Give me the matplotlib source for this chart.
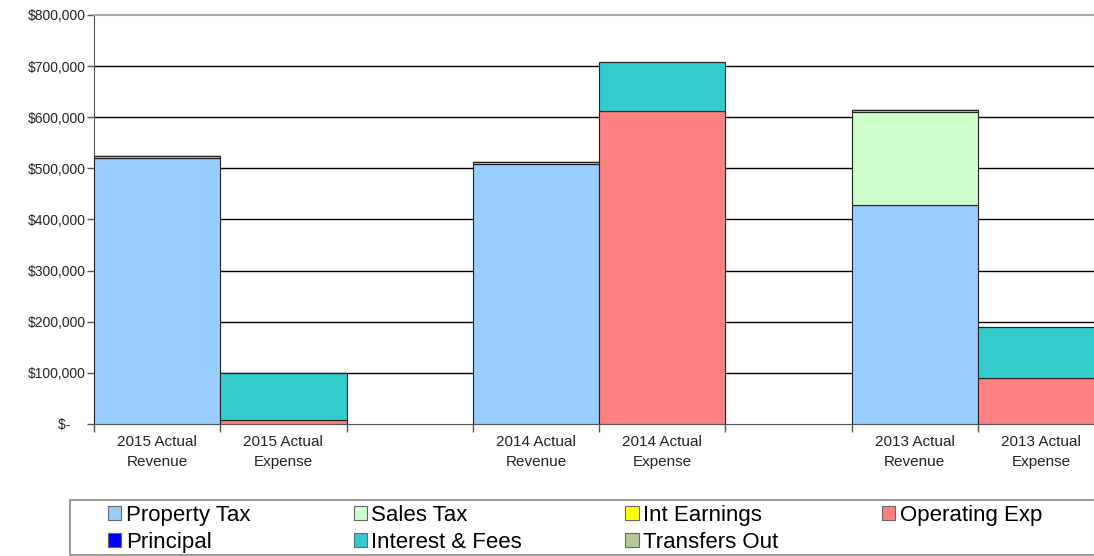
import numpy as np
import matplotlib
matplotlib.use("Agg")
import matplotlib.pyplot as plt
from matplotlib.patches import Rectangle
from matplotlib.ticker import FixedLocator, FuncFormatter

plt.rcParams['font.family'] = ['Liberation Sans', 'DejaVu Sans']

categories = ['2015 Actual\nRevenue', '2015 Actual\nExpense',
              '2014 Actual\nRevenue', '2014 Actual\nExpense',
              '2013 Actual\nRevenue', '2013 Actual\nExpense']
slots = [0, 1, 3, 4, 6, 7]

series = ['Property Tax', 'Sales Tax', 'Int Earnings', 'Operating Exp',
          'Principal', 'Interest & Fees', 'Transfers Out']
colors = ['#99CCFF', '#CCFFCC', '#FFFF00', '#FF8080',
          '#0000FF', '#33CCCC', '#B3C99A']

property_tax = [521000, 0, 509000, 0, 429000, 0]
sales_tax = [0, 0, 0, 0, 182000, 0]
int_earnings = [4000, 0, 3000, 0, 3000, 0]
operating_exp = [0, 8000, 0, 612000, 0, 90000]
principal = [0, 0, 0, 0, 0, 0]
interest_fees = [0, 91000, 0, 96000, 0, 100000]
transfers_out = [0, 0, 0, 0, 0, 0]

values = [property_tax, sales_tax, int_earnings, operating_exp,
          principal, interest_fees, transfers_out]

fig = plt.figure(figsize=(10.94, 5.56), dpi=100)
ax = fig.add_axes([94 / 1094, 1 - 424 / 556, 1 - 94 / 1094, (424 - 15) / 556])

bottom = np.zeros(len(slots))
handles = {}
for name, col, vals in zip(series, colors, values):
    vals = np.array(vals, dtype=float)
    bars = ax.bar(slots, vals, width=1.0, bottom=bottom, color=col,
                  edgecolor='#222222', linewidth=0.8, zorder=3, label=name)
    handles[name] = bars
    bottom += vals

ax.set_ylim(0, 800000)
ax.set_xlim(-0.5, 7.42)

yticks = np.arange(0, 800001, 100000)
ax.yaxis.set_major_locator(FixedLocator(yticks))
ax.yaxis.set_major_formatter(FuncFormatter(
    lambda v, p: '$-    ' if v == 0 else '${:,.0f}'.format(v)))
# black gridlines, except the top border which stays light grey
ax.hlines(yticks[1:-1], 0, 1, transform=ax.get_yaxis_transform(),
          color='black', linewidth=1.0, zorder=1)
ax.tick_params(axis='y', length=5, width=1, color='#555555',
               labelsize=10, labelcolor='#222222', pad=1)

ax.xaxis.set_major_locator(FixedLocator([-0.5, 0.5, 1.5, 2.5, 3.5, 4.5, 5.5, 6.5]))
ax.xaxis.set_major_formatter(FuncFormatter(lambda v, p: ''))
ax.xaxis.set_minor_locator(FixedLocator(slots))
ax.set_xticklabels(categories, minor=True, linespacing=1.55)
ax.tick_params(axis='x', which='major', length=6, width=1, color='#555555')
ax.tick_params(axis='x', which='minor', length=0, labelsize=11,
               labelcolor='#222222', pad=8)

ax.spines['right'].set_visible(False)
ax.spines['top'].set_color('#aaaaaa')
ax.spines['top'].set_linewidth(1.5)
ax.spines['left'].set_color('#555555')
ax.spines['bottom'].set_color('#555555')

# legend box
fig.patches.append(Rectangle((70 / 1094, 1 - 555 / 556), 1.1, 55 / 556,
                             transform=fig.transFigure, facecolor='white',
                             edgecolor='#888888', linewidth=1.2))

order = ['Property Tax', 'Principal', 'Sales Tax', 'Interest & Fees',
         'Int Earnings', 'Transfers Out', 'Operating Exp']
leg = fig.legend([handles[n] for n in order], order, ncol=4,
                 loc='upper left',
                 bbox_to_anchor=(108 / 1094, 1 - 505 / 556, (1042 - 108) / 1094, 0.0),
                 mode='expand', fontsize=16, frameon=False,
                 handlelength=0.6, handleheight=0.6,
                 handletextpad=0.2, borderaxespad=0, labelspacing=0.27,
                 borderpad=0, columnspacing=1.0)
for h in leg.legend_handles:
    h.set_edgecolor('#666666')

fig.savefig('out.png', dpi=100)
